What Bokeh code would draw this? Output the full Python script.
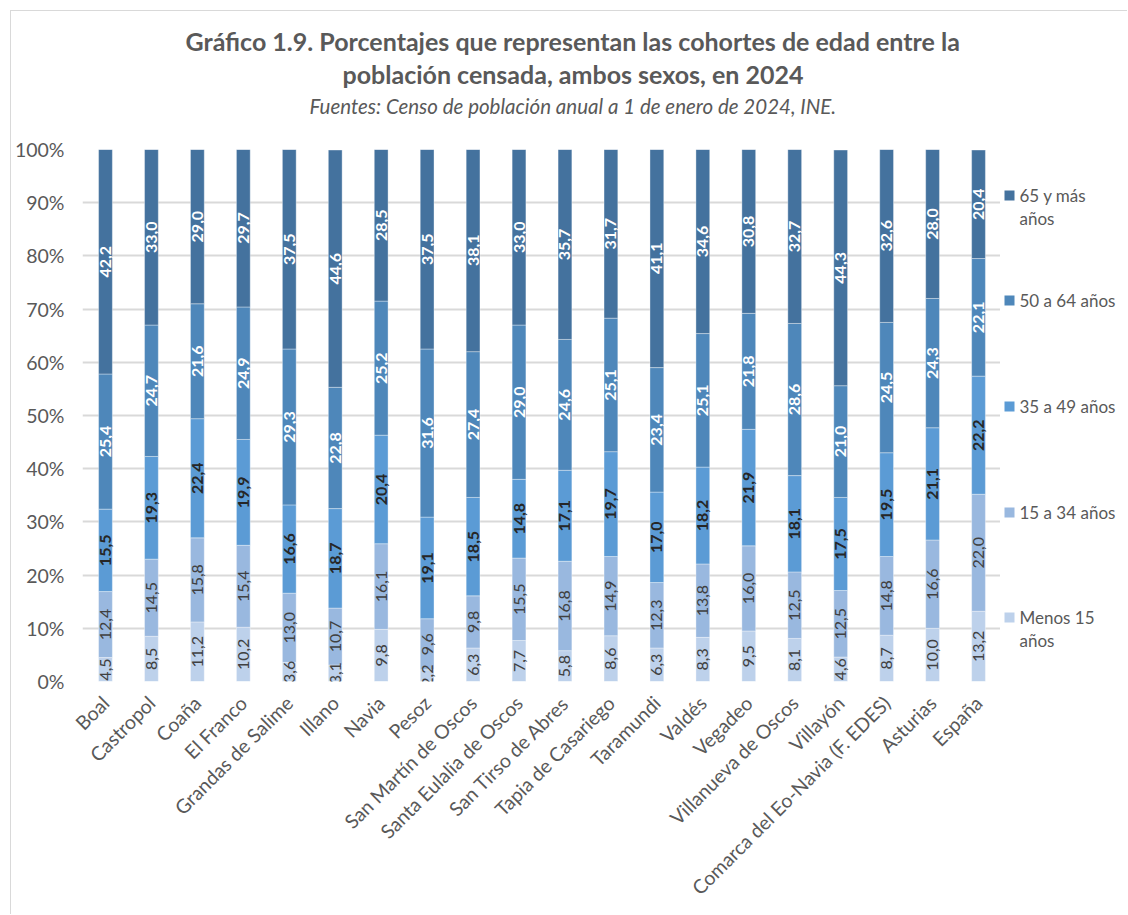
from math import pi
import numpy as np
from bokeh.plotting import figure
from bokeh.layouts import row
from bokeh.models import (ColumnDataSource, FixedTicker, PrintfTickFormatter, Title,
                          FactorRange, Range1d)
from bokeh.core.properties import value
from bokeh.embed import file_html
from bokeh.resources import INLINE

# ---------------- data ----------------
municipios = ["Boal", "Castropol", "Coaña", "El Franco", "Grandas de Salime", "Illano",
              "Navia", "Pesoz", "San Martín de Oscos", "Santa Eulalia de Oscos",
              "San Tirso de Abres", "Tapia de Casariego", "Taramundi", "Valdés", "Vegadeo",
              "Villanueva de Oscos", "Villayón", "Comarca del Eo-Navia (F. EDES)",
              "Asturias", "España"]
menos15 = [4.5, 8.5, 11.2, 10.2, 3.6, 3.1, 9.8, 2.2, 6.3, 7.7, 5.8, 8.6, 6.3, 8.3, 9.5, 8.1, 4.6, 8.7, 10.0, 13.2]
de15a34 = [12.4, 14.5, 15.8, 15.4, 13.0, 10.7, 16.1, 9.6, 9.8, 15.5, 16.8, 14.9, 12.3, 13.8, 16.0, 12.5, 12.5, 14.8, 16.6, 22.0]
de35a49 = [15.5, 19.3, 22.4, 19.9, 16.6, 18.7, 20.4, 19.1, 18.5, 14.8, 17.1, 19.7, 17.0, 18.2, 21.9, 18.1, 17.5, 19.5, 21.1, 22.2]
de50a64 = [25.4, 24.7, 21.6, 24.9, 29.3, 22.8, 25.2, 31.6, 27.4, 29.0, 24.6, 25.1, 23.4, 25.1, 21.8, 28.6, 21.0, 24.5, 24.3, 22.1]
mas65 = [42.2, 33.0, 29.0, 29.7, 37.5, 44.6, 28.5, 37.5, 38.1, 33.0, 35.7, 31.7, 41.1, 34.6, 30.8, 32.7, 44.3, 32.6, 28.0, 20.4]
series_labels = [["Menos 15", "años"], ["15 a 34 años"], ["35 a 49 años"], ["50 a 64 años"],
                 ["65 y más", "años"]]
y_ticks = [0, 10, 20, 30, 40, 50, 60, 70, 80, 90, 100]

title1 = "Gráfico 1.9. Porcentajes que representan las cohortes de edad entre la"
title2 = "población censada, ambos sexos, en 2024"
subtitle = "Fuentes: Censo de población anual a 1 de enero de 2024, INE."

# ---------------- style ----------------
FONT = "Lato"
colors = ["#BDD1EB", "#99B8DF", "#5B9BD5", "#4E87BA", "#44729E"]
label_colors = ["#404040", "#404040", "#262626", "#FFFFFF", "#FFFFFF"]
label_styles = ["normal", "normal", "bold", "bold", "bold"]
keys = ["m15", "a15", "a35", "a50", "a65"]
BORDER = "1px solid #D9D9D9"

OX, OY = 11, 11                     # canvas origin inside the page (after border)
PLOT_RIGHT = 1001                   # right edge of the plot frame in the page
PLOT_TOP, PLOT_BOTTOM = 149, 681    # frame top / bottom in the page
W, H = PLOT_RIGHT - OX, 915 - OY
LEFT, TOP, BOTTOM = 79 - OX, PLOT_TOP - OY, 915 - PLOT_BOTTOM

src = ColumnDataSource(dict(x=municipios, m15=menos15, a15=de15a34, a35=de35a49,
                            a50=de50a64, a65=mas65))

p = figure(width=W, height=H, x_range=FactorRange(*municipios), y_range=Range1d(0, 100),
           output_backend="svg", toolbar_location=None,
           min_border_left=LEFT, min_border_right=0, min_border_top=TOP,
           min_border_bottom=BOTTOM)
p.margin = (OY - 1, 0, 0, OX - 1)
p.styles = {"border-left": BORDER, "border-top": BORDER}
p.outline_line_color = None
p.background_fill_color = "white"
p.border_fill_color = "white"

p.vbar_stack(keys, x="x", width=0.30, color=colors, line_color="white",
             line_width=0.6, line_alpha=0.6, source=src)

# data labels
vals = [menos15, de15a34, de35a49, de50a64, mas65]
base = np.zeros(len(municipios))
for v, col, st in zip(vals, label_colors, label_styles):
    arr = np.array(v)
    centers = base + arr / 2
    base = base + arr
    lsrc = ColumnDataSource(dict(x=municipios, y=centers,
                                 t=[f"{a:.1f}".replace(".", ",") for a in arr]))
    p.text(x="x", y="y", text="t", source=lsrc, angle=pi / 2, text_align="center",
           text_baseline="middle", text_color=col, text_font=value(FONT),
           text_font_size="16px", text_font_style=st)

# axes
p.yaxis.ticker = FixedTicker(ticks=y_ticks)
p.yaxis.formatter = PrintfTickFormatter(format="%d%%")
for ax in (p.xaxis[0], p.yaxis[0]):
    ax.axis_line_color = None
    ax.major_tick_line_color = None
    ax.minor_tick_line_color = None
    ax.major_tick_in = 0
    ax.major_tick_out = 0
    ax.major_label_text_color = "#595959"
    ax.major_label_text_font = FONT
    ax.major_label_text_font_size = "19.5px"
p.yaxis.major_label_standoff = 18
p.xaxis.major_label_orientation = pi / 4
p.xaxis.major_label_standoff = 18

p.xgrid.grid_line_color = None
p.ygrid.grid_line_color = "#D9D9D9"
p.ygrid.grid_line_width = 2

# titles (stacked above the frame: first added is nearest); a blank spacer first
p.add_layout(Title(text=" ", text_font_size="1px", standoff=27), "above")
for txt, size, style, so, off in [(subtitle, "20.5px", "italic", 4, 227),
                                  (title2, "25px", "bold", 1, 260),
                                  (title1, "25px", "bold", 1, 103)]:
    p.add_layout(Title(text=txt, align="left", offset=off, text_color="#595959",
                       text_font=FONT, text_font_size=size, text_font_style=style,
                       standoff=so), "above")

# ---------------- legend panel (page pixel coordinates) ----------------
LW = 1128 - PLOT_RIGHT
lg = figure(width=LW, height=H, x_range=Range1d(PLOT_RIGHT, 1128),
            y_range=Range1d(PLOT_BOTTOM, PLOT_TOP),
            output_backend="svg", toolbar_location=None, x_axis_location=None,
            y_axis_location=None, min_border=0, min_border_left=0, min_border_right=0,
            min_border_top=TOP, min_border_bottom=BOTTOM)
lg.margin = (OY - 1, 0, 0, 0)
lg.styles = {"border-top": BORDER}
lg.outline_line_color = None
lg.xgrid.grid_line_color = None
lg.ygrid.grid_line_color = None

leg_y = [617, 512, 406, 300, 195]
lg.scatter(x=[1010] * 5, y=leg_y, marker="square", size=10, color=colors, line_color=None)
tx, ty, tt = [], [], []
for yy, lines in zip(leg_y, series_labels):
    for k, line in enumerate(lines):
        tx.append(1020)
        ty.append(yy + 23 * k)
        tt.append(line)
lg.text(x=tx, y=ty, text=tt, text_align="left", text_baseline="middle",
        text_color="#595959", text_font=value(FONT), text_font_size="17px")

open("out.html", "w").write(file_html(row(p, lg), INLINE))
